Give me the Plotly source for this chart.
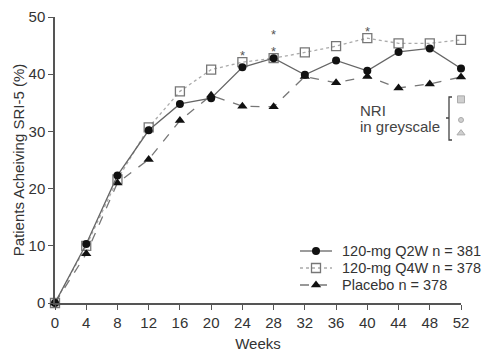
import plotly.graph_objects as go

weeks = [0, 4, 8, 12, 16, 20, 24, 28, 32, 36, 40, 44, 48, 52]
q2w = [0, 10.3, 22.3, 30.2, 34.8, 35.8, 41.2, 42.8, 39.9, 42.4, 40.6, 43.9, 44.5, 41.0]
q4w = [0, 10.0, 21.6, 30.7, 37.0, 40.8, 42.1, 42.8, 43.8, 44.9, 46.3, 45.4, 45.4, 46.0]
placebo = [0, 8.6, 21.0, 25.1, 31.9, 36.3, 34.4, 34.3, 39.6, 38.5, 39.6, 37.6, 38.3, 39.5]
names = ["120-mg Q2W n = 381", "120-mg Q4W n = 378", "Placebo n = 378"]
star_weeks = [24, 28, 40]
star_text = ["*", "*<br>*", "*"]
nri_y = [35.6, 32.0, 29.7]

FONT = "Liberation Sans, Arial, sans-serif"
L, R, T, B = 55, 25, 17, 49
W, H = 486, 352


def px(x):
    return (x - L) / (W - L - R)


def py(y):
    return (H - B - y) / (H - B - T)


styles = {
    names[0]: dict(line=dict(color="#666666", width=1.3),
                   marker=dict(symbol="circle", size=8, color="#111111")),
    names[1]: dict(line=dict(color="#aaaaaa", width=1.3, dash="dot"),
                   marker=dict(symbol="square-open", size=9, color="#777777", line=dict(width=1.3))),
    names[2]: dict(line=dict(color="#777777", width=1.3, dash="dash"),
                   marker=dict(symbol="triangle-up", size=9, color="#111111")),
}
series = {names[0]: q2w, names[1]: q4w, names[2]: placebo}

fig = go.Figure()
for nm in [names[1], names[2], names[0]]:
    fig.add_trace(go.Scatter(x=weeks, y=series[nm], name=nm, mode="lines+markers",
                             showlegend=False, cliponaxis=False, **styles[nm]))

# NRI grey symbols
fig.add_trace(go.Scatter(x=[52, 52, 52], y=nri_y, mode="markers", showlegend=False,
                         marker=dict(symbol=["square", "circle", "triangle-up"], size=[7, 5, 7],
                                     color="#bbbbbb", line=dict(color="#888888", width=1)),
                         cliponaxis=False, hoverinfo="skip"))

q4w_map = dict(zip(weeks, q4w))
for w, t in zip(star_weeks, star_text):
    fig.add_annotation(x=w, y=q4w_map[w], text=t, showarrow=False, yanchor="bottom", yshift=-3,
                       font=dict(size=13, color="#555555", family=FONT))

# manual legend (symbols on a hidden pixel-scaled overlay axis)
leg_rows = [251, 268, 285]
for nm, yy in zip(names, leg_rows):
    st = styles[nm]
    fig.add_trace(go.Scatter(x=[300, 332], y=[yy, yy], mode="lines", line=st["line"],
                             xaxis="x2", yaxis="y2", showlegend=False, hoverinfo="skip"))
    fig.add_trace(go.Scatter(x=[316], y=[yy], mode="markers", marker=st["marker"],
                             xaxis="x2", yaxis="y2", showlegend=False, hoverinfo="skip"))
    fig.add_annotation(xref="paper", yref="paper", x=px(340), y=py(yy), text=nm, showarrow=False,
                       xanchor="left", yanchor="middle",
                       font=dict(size=14.5, color="#333333", family=FONT))

fig.add_annotation(xref="paper", yref="paper", x=px(358), y=py(110), text="NRI", showarrow=False,
                   xanchor="left", yanchor="middle", font=dict(size=15, color="#444444", family=FONT))
fig.add_annotation(xref="paper", yref="paper", x=px(358), y=py(127), text="in greyscale",
                   showarrow=False, xanchor="left", yanchor="middle",
                   font=dict(size=15, color="#444444", family=FONT))
fig.add_shape(type="path", xref="x2", yref="y2",
              path="M 452,97 L 449,97 L 449,140 L 452,140 M 449,118 L 446,118",
              line=dict(color="#444444", width=1.3))

axis_common = dict(showline=True, linecolor="#555555", linewidth=1.5, ticks="outside",
                   ticklen=5, tickwidth=1.3, tickcolor="#555555", showgrid=False, zeroline=False,
                   automargin=False, tickfont=dict(size=15, color="#333333", family=FONT))
fig.update_layout(
    width=W, height=H,
    margin=dict(l=L, r=R, t=T, b=B),
    paper_bgcolor="white", plot_bgcolor="white",
    font=dict(family=FONT, color="#333333", size=14),
    xaxis=dict(range=[0, 52], tickvals=weeks, title=dict(text="Weeks", standoff=10,
               font=dict(size=15)), **axis_common),
    yaxis=dict(range=[0, 50], tickvals=[0, 10, 20, 30, 40, 50],
               title=dict(text="Patients Acheiving SRI-5 (%)", standoff=0, font=dict(size=15)),
               **axis_common),
    xaxis2=dict(range=[L, W - R], overlaying="x", anchor="y2", visible=False, fixedrange=True),
    yaxis2=dict(range=[H - B, T], overlaying="y", anchor="x2", visible=False, fixedrange=True),
    showlegend=False,
)

fig.write_html("out.html", config={"displayModeBar": False},
               post_script="document.body.style.margin='0';")
